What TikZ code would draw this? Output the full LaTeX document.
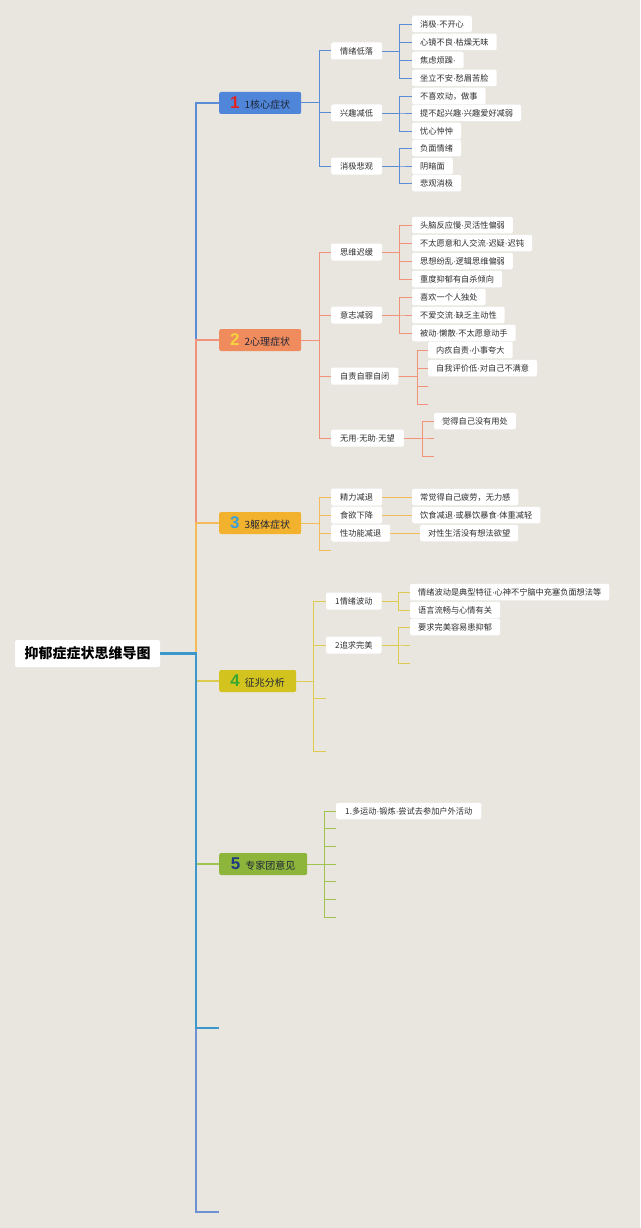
\documentclass[tikz,border=0pt]{standalone}
\usepackage{fontspec}
\setmainfont{Noto Sans CJK SC}
\newfontfamily\numfont{Liberation Sans}
\definecolor{bg}{HTML}{E9E6DF}
\definecolor{txt}{HTML}{2E2E2E}
\definecolor{brtxt}{HTML}{1F2535}
\definecolor{f1}{HTML}{4F86D9}
\definecolor{f2}{HTML}{F08B5E}
\definecolor{f3}{HTML}{F2B22E}
\definecolor{f4}{HTML}{D3C31F}
\definecolor{f5}{HTML}{8DB43B}
\definecolor{c1}{HTML}{5B8DD6}
\definecolor{c2}{HTML}{F0937A}
\definecolor{c3}{HTML}{F5BA5C}
\definecolor{c4}{HTML}{DDCB50}
\definecolor{c5}{HTML}{A0C250}
\definecolor{c6}{HTML}{3C97CB}
\definecolor{c7}{HTML}{6F90D2}
\definecolor{n1}{HTML}{E02424}
\definecolor{n2}{HTML}{F8D23E}
\definecolor{n3}{HTML}{3AA0D8}
\definecolor{n4}{HTML}{36A830}
\definecolor{n5}{HTML}{1E3A80}
\newcommand\bignum[2]{{\numfont\bfseries\fontsize{17}{17}\selectfont\color{#1}#2}}
\newcommand\dt{{\numfont\char"00B7}}
\begin{document}
\begin{tikzpicture}[x=1pt,y=-1pt,
  leaf/.style={fill=white, rounded corners=1.5pt, anchor=west, inner xsep=8pt, inner ysep=0pt,
    minimum height=16.5pt, font=\fontsize{8.2}{9}\selectfont, text=txt},
  sub/.style={leaf, inner xsep=9pt, minimum height=17pt},
  br/.style={anchor=west, rounded corners=2pt, minimum height=22pt, inner xsep=4pt, inner ysep=0pt,
    font=\fontsize{10}{11}\selectfont, text=brtxt},
  rootbox/.style={fill=white, rounded corners=1.5pt, minimum width=145pt, minimum height=27pt,
    inner sep=0pt, font=\bfseries\fontsize{14}{15}\selectfont, text=black},
  main/.style={line width=2.6pt, line join=miter},
  lsub/.style={line width=1pt},
  lleaf/.style={line width=0.8pt}
]
\fill[bg] (0,0) rectangle (640,1228);

% root
\node[rootbox] (root) at (87.5,653.5) {抑郁症症状思维导图};

% branches
\node[br, fill=f1, minimum width=82pt] (b1) at (219,103) {\bignum{n1}{1}\hspace{5pt}1核心症状};
\node[br, fill=f2, minimum width=82pt] (b2) at (219,340) {\bignum{n2}{2}\hspace{5pt}2心理症状};
\node[br, fill=f3, minimum width=82pt] (b3) at (219,523) {\bignum{n3}{3}\hspace{5pt}3躯体症状};
\node[br, fill=f4, minimum width=77pt] (b4) at (219,681) {\bignum{n4}{4}\hspace{5pt}征兆分析};
\node[br, fill=f5, minimum width=88pt] (b5) at (219,864) {\bignum{n5}{5}\hspace{5pt}专家团意见};
\coordinate (e6) at (219,1028);
\coordinate (e7) at (219,1212);

% spine (order matters for overlaps)
\draw[main, c4] (root.east) -| ([xshift=-23pt]b4.west) -- (b4.west);
\draw[main, c5] (root.east) -| ([xshift=-23pt]b5.west) -- (b5.west);
\draw[main, c1] (root.east) -| ([xshift=-23pt]b1.west) -- (b1.west);
\draw[main, c2] (root.east) -| ([xshift=-23pt]b2.west) -- (b2.west);
\draw[main, c3] (root.east) -| ([xshift=-23pt]b3.west) -- (b3.west);
\draw[line width=1.8pt, c7] (root.east) -| ([xshift=-23pt]e7) -- (e7);
\draw[main, c6] (root.east) -| ([xshift=-23pt]e6) -- (e6);

% ---------- branch 1 ----------
\node[sub] (s11) at (331,51) {情绪低落};
\node[sub] (s12) at (331,113) {兴趣减低};
\node[sub] (s13) at (331,166) {消极悲观};
\foreach \s in {s11,s12,s13}{\draw[lsub,c1] (b1.east) -| ([xshift=-12pt]\s.west) -- (\s.west);}
\node[leaf] (l11) at (412,24) {消极\dt 不开心};
\node[leaf] (l12) at (412,42) {心镜不良\dt 枯燥无味};
\node[leaf] (l13) at (412,60) {焦虑烦躁\dt};
\node[leaf] (l14) at (412,78) {坐立不安\dt 愁眉苦脸};
\node[leaf] (l15) at (412,96) {不喜欢动，做事};
\node[leaf] (l16) at (412,113) {提不起兴趣\dt 兴趣爱好减弱};
\node[leaf] (l17) at (412,131) {忧心忡忡};
\node[leaf] (l18) at (412,148) {负面情绪};
\node[leaf] (l19) at (412,166) {阴暗面};
\node[leaf] (l110) at (412,183) {悲观消极};
\foreach \l in {l11,l12,l13,l14}{\draw[lleaf,c1] (s11.east) -| ([xshift=-13pt]\l.west) -- (\l.west);}
\foreach \l in {l15,l16,l17}{\draw[lleaf,c1] (s12.east) -| ([xshift=-13pt]\l.west) -- (\l.west);}
\foreach \l in {l18,l19,l110}{\draw[lleaf,c1] (s13.east) -| ([xshift=-13pt]\l.west) -- (\l.west);}

% ---------- branch 2 ----------
\node[sub] (s21) at (331,252) {思维迟缓};
\node[sub] (s22) at (331,315) {意志减弱};
\node[sub] (s23) at (331,376) {自责自罪自闭};
\node[sub] (s24) at (331,438) {无用\dt 无助\dt 无望};
\foreach \s in {s21,s22,s23,s24}{\draw[lsub,c2] (b2.east) -| ([xshift=-12pt]\s.west) -- (\s.west);}
\node[leaf] (l21) at (412,225) {头脑反应慢\dt 灵活性偏弱};
\node[leaf] (l22) at (412,243) {不太愿意和人交流\dt 迟疑\dt 迟钝};
\node[leaf] (l23) at (412,261) {思想纷乱\dt 逻辑思维偏弱};
\node[leaf] (l24) at (412,279) {重度抑郁有自杀倾向};
\node[leaf] (l25) at (412,297) {喜欢一个人独处};
\node[leaf] (l26) at (412,315) {不爱交流\dt 缺乏主动性};
\node[leaf] (l27) at (412,333) {被动\dt 懒散\dt 不太愿意动手};
\node[leaf] (l28) at (428,350) {内疚自责\dt 小事夸大};
\node[leaf] (l29) at (428,368) {自我评价低\dt 对自己不满意};
\coordinate (l2a) at (428,386);
\coordinate (l2b) at (428,404);
\node[leaf] (l2c) at (434,421) {觉得自己没有用处};
\coordinate (l2d) at (434,438);
\coordinate (l2e) at (434,456);
\foreach \l in {l21,l22,l23,l24}{\draw[lleaf,c2] (s21.east) -| ([xshift=-13pt]\l.west) -- (\l.west);}
\foreach \l in {l25,l26,l27}{\draw[lleaf,c2] (s22.east) -| ([xshift=-13pt]\l.west) -- (\l.west);}
\foreach \l in {l28.west,l29.west,l2a,l2b}{\draw[lleaf,c2] (s23.east) -| ([xshift=-11pt]\l) -- (\l);}
\foreach \l in {l2c.west,l2d,l2e}{\draw[lleaf,c2] (s24.east) -| ([xshift=-12pt]\l) -- (\l);}

% ---------- branch 3 ----------
\node[sub] (s31) at (331,497) {精力减退};
\node[sub] (s32) at (331,515) {食欲下降};
\node[sub] (s33) at (331,533) {性功能减退};
\coordinate (s34) at (331,550);
\foreach \s in {s31.west,s32.west,s33.west,s34}{\draw[lsub,c3] (b3.east) -| ([xshift=-12pt]\s) -- (\s);}
\node[leaf] (l31) at (412,497) {常觉得自己疲劳，无力感};
\node[leaf] (l32) at (412,515) {饮食减退\dt 或暴饮暴食\dt 体重减轻};
\node[leaf] (l33) at (420,533) {对性生活没有想法欲望};
\draw[lleaf,c3] (s31.east) -- (l31.west);
\draw[lleaf,c3] (s32.east) -- (l32.west);
\draw[lleaf,c3] (s33.east) -- (l33.west);

% ---------- branch 4 ----------
\node[sub] (s41) at (326,601) {1情绪波动};
\node[sub] (s42) at (326,645) {2追求完美};
\coordinate (s43) at (326,698);
\coordinate (s44) at (326,751);
\foreach \s in {s41.west,s42.west,s43,s44}{\draw[lsub,c4] (b4.east) -| ([xshift=-13pt]\s) -- (\s);}
\node[leaf] (l41) at (410,592) {情绪波动是典型特征\dt 心神不宁脑中充塞负面想法等};
\node[leaf] (l42) at (410,610) {语言流畅与心情有关};
\node[leaf] (l43) at (410,627) {要求完美容易患抑郁};
\coordinate (l44) at (410,645);
\coordinate (l45) at (410,663);
\foreach \l in {l41.west,l42.west}{\draw[lleaf,c4] (s41.east) -| ([xshift=-12pt]\l) -- (\l);}
\foreach \l in {l43.west,l44,l45}{\draw[lleaf,c4] (s42.east) -| ([xshift=-12pt]\l) -- (\l);}

% ---------- branch 5 ----------
\node[leaf, inner xsep=9pt] (l51) at (336,811) {1.多运动\dt 锻炼\dt 尝试去参加户外活动};
\coordinate (l52) at (336,828.5);
\coordinate (l53) at (336,846);
\coordinate (l54) at (336,864);
\coordinate (l55) at (336,881.5);
\coordinate (l56) at (336,899);
\coordinate (l57) at (336,917);
\foreach \l in {l51.west,l52,l53,l54,l55,l56,l57}{\draw[lsub,c5] (b5.east) -| ([xshift=-12pt]\l) -- (\l);}
\end{tikzpicture}
\end{document}
